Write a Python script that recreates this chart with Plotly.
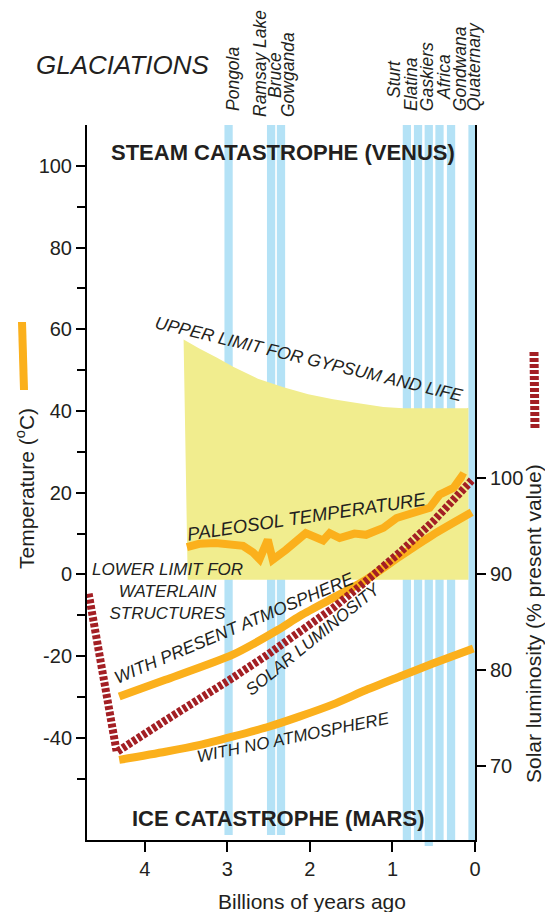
import plotly.graph_objects as go

# ---------------- data ----------------
# Paleosol temperature (deg C) vs age (billions of years ago)
paleosol_age = [3.49, 3.34, 3.14, 2.81, 2.69, 2.61, 2.51, 2.45, 2.29, 2.05, 1.84, 1.76,
                1.64, 1.46, 1.32, 1.11, 0.95, 0.79, 0.55, 0.43, 0.26, 0.16, 0.12]
paleosol_temp = [6.7, 7.5, 7.7, 7.0, 5.4, 3.75, 8.5, 3.6, 6.0, 10.1, 8.3, 10.1,
                 8.9, 10.0, 9.7, 11.4, 13.8, 14.6, 16.3, 19.5, 21.2, 24.0, 23.6]

# Model temperature with present atmosphere
present_age = [4.31, 3.75, 2.94, 2.39, 2.13, 1.76, 1.32, 0.91, 0.51, 0.04]
present_temp = [-29.9, -25.8, -19.7, -13.6, -10.3, -6.2, -1.3, 4.4, 9.7, 15.2]

# Model temperature with no atmosphere
noatm_age = [4.31, 3.75, 3.33, 2.94, 2.52, 2.13, 1.72, 1.32, 0.91, 0.51, 0.02]
noatm_temp = [-45.4, -43.4, -41.7, -39.7, -37.4, -34.8, -31.8, -28.3, -25.0, -21.8, -18.1]

# Solar luminosity (% of present value)
lum_age = [4.68, 4.34, 3.75, 3.33, 2.94, 2.52, 2.13, 1.72, 1.32, 0.91, 0.51, 0.04]
lum_value = [88.0, 71.5, 74.8, 77.0, 79.2, 81.6, 83.9, 86.5, 89.3, 92.3, 95.5, 99.8]

# Upper limit for gypsum and life (top of the yellow zone)
upper_age = [3.53, 3.34, 3.13, 2.93, 2.63, 2.32, 2.02, 1.72, 1.41, 1.11, 0.87, 0.10, 0.08]
upper_temp = [57.5, 55.3, 53.1, 50.8, 47.9, 45.8, 44.1, 42.9, 41.9, 41.0, 40.65, 40.65, 40.8]
zone_left_bottom_age = 3.48
zone_right_age = 0.08
zone_bottom_temp = -1.3

# Glaciation bands (centre age, Ga)
band_age = [2.985, 2.47, 2.35, 0.825, 0.69, 0.56, 0.43, 0.29, 0.03]
band_width = 0.1

# Glaciation names
glaciation_names = ["Pongola", "Ramsay Lake", "Bruce", "Gowganda", "Sturt", "Elatina",
                    "Gaskiers", "Africa", "Gondwana", "Quaternary"]

# Axis ticks
x_ticks = [4, 3, 2, 1, 0]
x_top_ticks = [4.1, 3.1, 2.1, 1.1, 0.03]
y_ticks = [-40, -20, 0, 20, 40, 60, 80, 100]
y_minor = [-50, -30, -10, 10, 30, 50, 70, 90]
y2_ticks = [70, 80, 90, 100]

# ---------------- layout helpers (positions / styles) ----------------
W, H = 545, 912
ML, MT = 87, 125
MR, MB = W - 475, H - 840
PW, PH = W - ML - MR, H - MT - MB


def pxx(x):
    return (x - ML) / PW


def pxy(y):
    return (H - MB - y) / PH


ORANGE = "#FBB01C"
RED = "#A31F24"
YELLOW = "#F1ED8E"
BLUE = "#B4E2F6"
TXT = "#231F20"
FONT = "Liberation Sans, Arial, Helvetica, sans-serif"

# band bottom (px) per band and label placement (px centre x, px bottom y)
band_bottom_px = [835, 835, 835, 840, 840, 846, 840, 840, 840]
label_x_px = [233, 260.5, 275, 288.5, 394, 411, 426.7, 444, 459.7, 473.4]
label_bottom_px = [113, 119, 100, 119, 100, 113, 113, 102, 113, 113]

fig = go.Figure()

# ---------------- shapes: yellow zone and glaciation bands ----------------
zx = [zone_left_bottom_age] + upper_age + [zone_right_age]
zy = [zone_bottom_temp] + upper_temp + [zone_bottom_temp]
path = "M " + " L ".join(f"{a},{t}" for a, t in zip(zx, zy)) + " Z"
shapes = [dict(type="path", path=path, xref="x", yref="y", layer="below",
               fillcolor=YELLOW, line=dict(width=0))]
for a, bpx in zip(band_age, band_bottom_px):
    shapes.append(dict(type="rect", xref="x", yref="paper", layer="below",
                       x0=a - band_width / 2, x1=a + band_width / 2,
                       y0=pxy(bpx), y1=1.0, fillcolor=BLUE, line=dict(width=0)))

# legend marks beside the axis titles
shapes.append(dict(type="line", xref="paper", yref="paper",
                   x0=pxx(22), x1=pxx(24), y0=pxy(322), y1=pxy(390),
                   line=dict(color=ORANGE, width=8)))
shapes.append(dict(type="line", xref="paper", yref="paper",
                   x0=pxx(534), x1=pxx(535), y0=pxy(352), y1=pxy(430),
                   line=dict(color=RED, width=9, dash="4px,2px")))

# ---------------- traces ----------------
fig.add_trace(go.Scatter(x=present_age, y=present_temp, mode="lines",
                         line=dict(color=ORANGE, width=8, shape="spline", smoothing=0.6),
                         hoverinfo="skip"))
fig.add_trace(go.Scatter(x=noatm_age, y=noatm_temp, mode="lines",
                         line=dict(color=ORANGE, width=8, shape="spline", smoothing=0.6),
                         hoverinfo="skip"))
fig.add_trace(go.Scatter(x=paleosol_age, y=paleosol_temp, mode="lines",
                         line=dict(color=ORANGE, width=8), hoverinfo="skip"))
fig.add_trace(go.Scatter(x=lum_age, y=lum_value, mode="lines", yaxis="y2",
                         line=dict(color=RED, width=8, dash="4px,2px"),
                         hoverinfo="skip"))

# ---------------- annotations ----------------
ann = []


def add_text(text, x, y, size, angle=0, italic=False, bold=False, xanchor="center",
             yanchor="middle"):
    ann.append(dict(text=text, x=pxx(x), y=pxy(y), xref="paper", yref="paper",
                    showarrow=False, textangle=angle, xanchor=xanchor, yanchor=yanchor,
                    font=dict(family=FONT, size=size, color=TXT,
                              style="italic" if italic else "normal",
                              weight="bold" if bold else "normal")))


add_text("GLACIATIONS", 123.4, 65.3, 26, italic=True)
for name, lx, lb in zip(glaciation_names, label_x_px, label_bottom_px):
    add_text(name, lx, lb, 17.5, angle=-90, italic=True, yanchor="bottom")
add_text("STEAM CATASTROPHE (VENUS)", 283, 152, 22, bold=True)
add_text("ICE CATASTROPHE (MARS)", 278, 818, 22, bold=True)
add_text("UPPER LIMIT FOR GYPSUM AND LIFE", 309, 359, 17.5, angle=13.5, italic=True)
add_text("PALEOSOL TEMPERATURE", 306, 516, 18.5, angle=-8.5, italic=True)
add_text("LOWER LIMIT FOR<br>WATERLAIN<br>STRUCTURES", 167, 591, 17, italic=True)
add_text("WITH PRESENT ATMOSPHERE", 234, 628, 17.5, angle=-23, italic=True)
add_text("SOLAR LUMINOSITY", 312.5, 639, 17, angle=-39, italic=True)
add_text("WITH NO ATMOSPHERE", 293, 737, 17, angle=-11.5, italic=True)
add_text("Temperature (<sup>o</sup>C)", 25, 489, 21, angle=-90)
add_text("Solar luminosity (% present value)", 533, 624, 21, angle=-90)
add_text("Billions of years ago", 312, 901, 21)

axis_common = dict(showgrid=False, zeroline=False, showline=True, linecolor="black",
                   linewidth=2, ticks="outside", tickcolor="black", tickwidth=2,
                   tickfont=dict(family=FONT, size=20, color=TXT))

fig.update_layout(
    width=W, height=H,
    margin=dict(l=ML, r=MR, t=MT, b=MB, pad=0),
    paper_bgcolor="white", plot_bgcolor="white",
    showlegend=False,
    shapes=shapes, annotations=ann,
    xaxis=dict(range=[4.7, 0], tickvals=x_ticks, ticktext=[str(v) for v in x_ticks],
               ticklen=10, **axis_common),
    xaxis2=dict(range=[4.7, 0], overlaying="x", side="top", anchor="y",
                tickvals=x_top_ticks, showticklabels=False, ticklen=11, **axis_common),
    yaxis=dict(range=[-65, 110], tickvals=y_ticks, ticktext=[str(v) for v in y_ticks],
               ticklen=9,
               minor=dict(tickmode="array", tickvals=y_minor, ticklen=8, tickwidth=2,
                          tickcolor="black", ticks="outside"),
               **axis_common),
    yaxis2=dict(range=[62.34, 136.81], overlaying="y", side="right", anchor="x",
                tickvals=y2_ticks, ticktext=[str(v) for v in y2_ticks], ticklen=9,
                **axis_common),
)

# remove the default 8px page margin so the figure fills the window exactly
fig.write_html("out.html",
               config={"displayModeBar": False},
               post_script="document.body.style.margin='0';document.body.style.overflow='hidden';")
